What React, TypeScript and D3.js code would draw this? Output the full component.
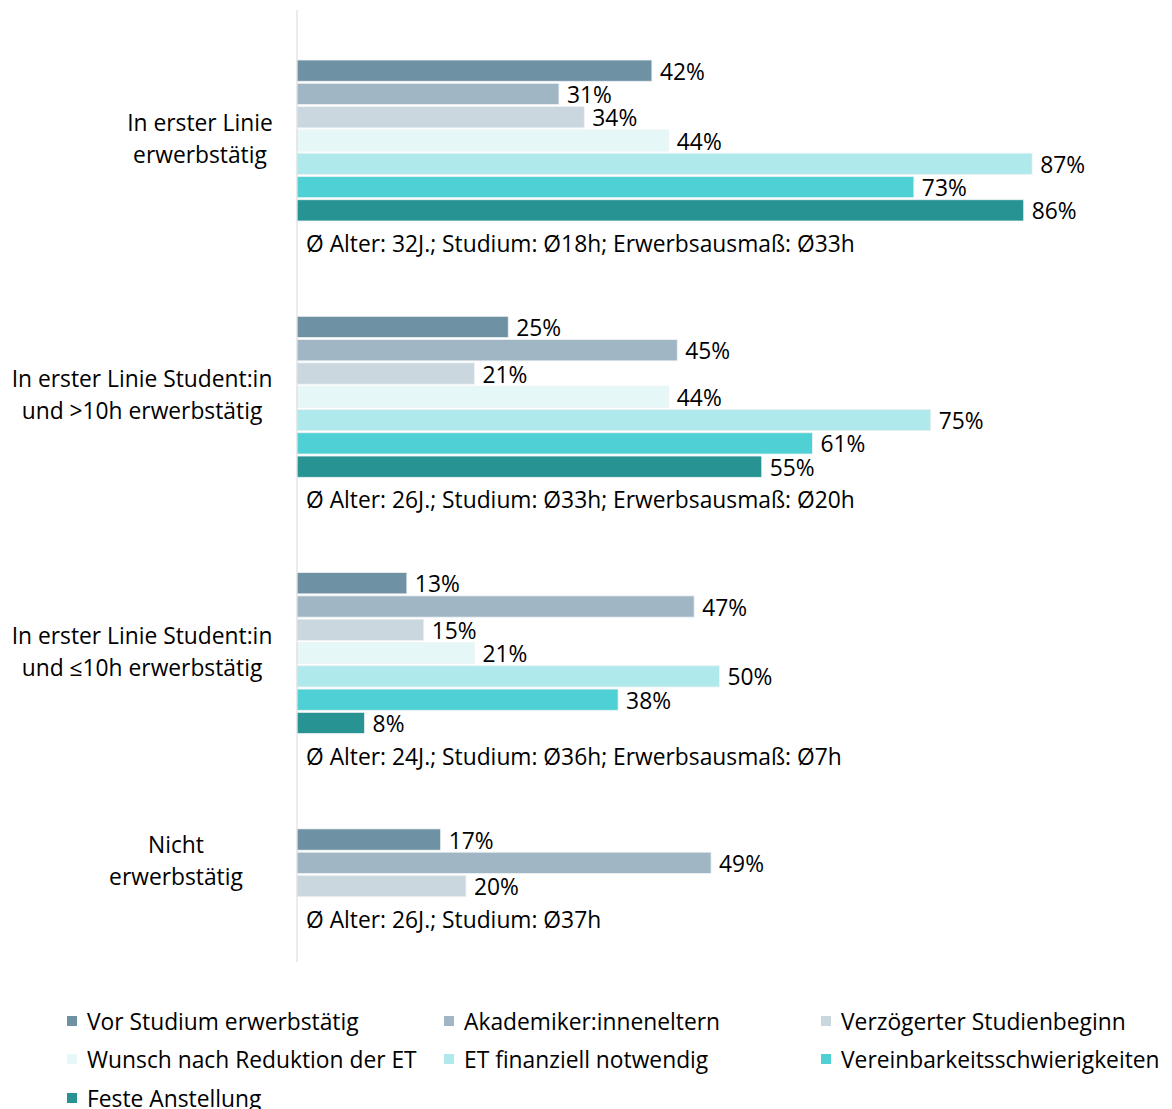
import React from "react";
import * as d3 from "d3";

const categories = [
  "In erster Linie erwerbstätig",
  "In erster Linie Student:in und >10h erwerbstätig",
  "In erster Linie Student:in und ≤10h erwerbstätig",
  "Nicht erwerbstätig",
];
const categoryLines = [
  ["In erster Linie", "erwerbstätig"],
  ["In erster Linie Student:in", "und >10h erwerbstätig"],
  ["In erster Linie Student:in", "und ≤10h erwerbstätig"],
  ["Nicht", "erwerbstätig"],
];
const seriesNames = [
  "Vor Studium erwerbstätig",
  "Akademiker:inneneltern",
  "Verzögerter Studienbeginn",
  "Wunsch nach Reduktion der ET",
  "ET finanziell notwendig",
  "Vereinbarkeitsschwierigkeiten",
  "Feste Anstellung",
];
const seriesColors = ["#6f91a4", "#a0b6c4", "#cad7df", "#e6f7f7", "#b0e9ec", "#4fd0d4", "#279393"];

const vorStudium = [42, 25, 13, 17];
const akademiker = [31, 45, 47, 49];
const verzoegert = [34, 21, 15, 20];
const wunschReduktion = [44, 44, 21, null];
const etFinanziell = [87, 75, 50, null];
const vereinbarkeit = [73, 61, 38, null];
const festeAnstellung = [86, 55, 8, null];
const seriesValues = [vorStudium, akademiker, verzoegert, wunschReduktion, etFinanziell, vereinbarkeit, festeAnstellung];

const annotations = [
  "Ø Alter: 32J.; Studium: Ø18h; Erwerbsausmaß: Ø33h",
  "Ø Alter: 26J.; Studium: Ø33h; Erwerbsausmaß: Ø20h",
  "Ø Alter: 24J.; Studium: Ø36h; Erwerbsausmaß: Ø7h",
  "Ø Alter: 26J.; Studium: Ø37h",
];

const W = 1172;
const H = 1109;
const FONT = "'Open Sans', sans-serif";
const FS = 22.8;
const labelCenters = [200, 142, 142, 176];

export default function App() {
  const x0 = 297;
  const x = d3.scaleLinear().domain([0, 100]).range([x0, x0 + 845]);
  const slot = 23;
  const groupStep = 256.3;
  const yGroup = d3.scaleBand<string>().domain(categories).range([60, 60 + groupStep * 4]).paddingInner(0);
  const ySeries = d3
    .scaleBand<string>()
    .domain(seriesNames)
    .range([0, slot * 7])
    .paddingInner(2 / slot)
    .paddingOuter(0);
  const bh = ySeries.bandwidth();

  const legendCols = [67, 444, 821];
  const legendRows = [1021, 1059, 1098];

  return (
    <svg
      width={W}
      height={H}
      style={{ position: "absolute", left: 0, top: 0, background: "#fff" }}
      fontFamily={FONT}
    >
      <rect x={0} y={0} width={W} height={H} fill="#fff" />
      {categories.map((cat, gi) => {
        const g0 = yGroup(cat)!;
        const present = seriesNames.filter((_, si) => seriesValues[si][gi] != null);
        const lastBottom = g0 + ySeries(present[present.length - 1])! + bh;
        const centerY = (g0 + lastBottom) / 2;
        const lines = categoryLines[gi];
        return (
          <g key={cat}>
            {seriesNames.map((s, si) => {
              const v = seriesValues[si][gi];
              if (v == null) return null;
              const y = g0 + ySeries(s)!;
              return (
                <g key={s}>
                  <rect
                    x={x(0)}
                    y={y}
                    width={x(v) - x(0)}
                    height={bh}
                    fill={seriesColors[si]}
                    stroke="#eef2f4"
                    strokeWidth={0.8}
                  />
                  <text
                    x={x(v) + 8}
                    y={y + bh / 2 + 0.5}
                    dominantBaseline="central"
                    fontSize={FS}
                    fill="#000"
                  >
                    {v}%
                  </text>
                </g>
              );
            })}
            <text x={306} y={lastBottom + 31} fontSize={FS} fill="#000">
              {annotations[gi]}
            </text>
            {lines.map((ln, li) => (
              <text
                key={li}
                x={labelCenters[gi]}
                y={centerY - 2 + (li - (lines.length - 1) / 2) * 32}
                textAnchor="middle"
                dominantBaseline="central"
                fontSize={FS}
                fill="#000"
              >
                {ln}
              </text>
            ))}
          </g>
        );
      })}
      <line x1={x0} x2={x0} y1={10} y2={962} stroke="#d9d9d9" strokeWidth={1} />
      {seriesNames.map((s, si) => {
        const cx = legendCols[si % 3];
        const cy = legendRows[Math.floor(si / 3)];
        return (
          <g key={s}>
            <rect x={cx} y={cy - 5} width={10} height={10} fill={seriesColors[si]} />
            <text x={cx + 20} y={cy} dominantBaseline="central" fontSize={FS} fill="#000">
              {s}
            </text>
          </g>
        );
      })}
    </svg>
  );
}
